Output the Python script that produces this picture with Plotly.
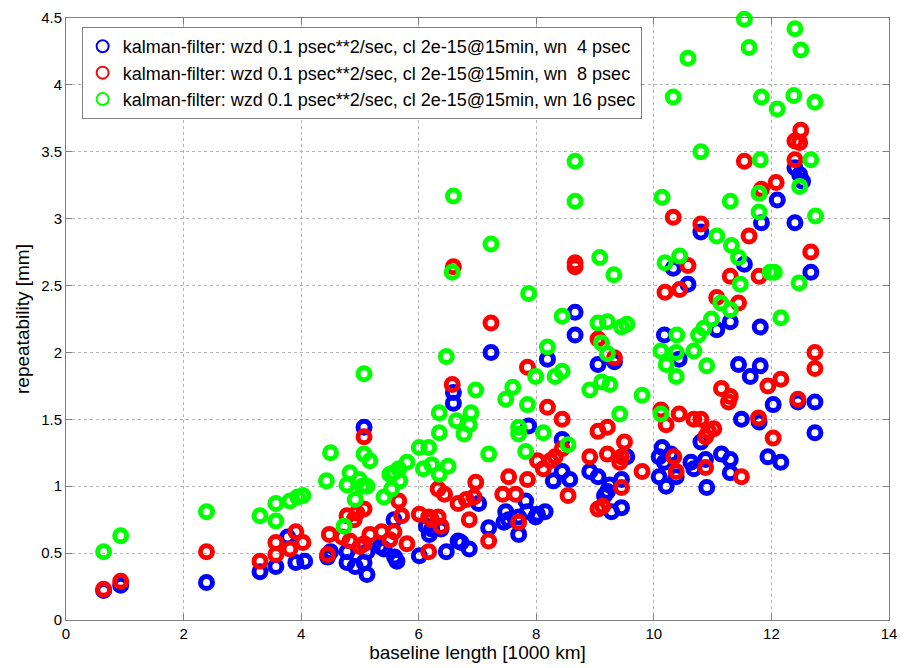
import plotly.graph_objects as go

# ---- data (baseline length [1000 km], repeatability [mm]) ----
blue_x = [0.64, 0.93, 2.39, 3.30, 3.57, 3.77, 3.91, 4.06, 4.45, 4.50, 4.78, 4.78, 4.92, 5.07, 5.07,
          5.12, 5.12, 5.34, 5.41, 5.58, 5.59, 5.63, 6.01, 6.13, 6.18, 6.22, 6.38, 6.47, 6.59, 6.59,
          6.67, 6.72, 6.86, 7.02, 7.19, 7.23, 7.45, 7.48, 7.53, 7.70, 7.70, 7.82, 7.85, 7.87, 7.99,
          8.02, 8.15, 8.19, 8.29, 8.44, 8.44, 8.57, 8.66, 8.66, 8.91, 9.05, 9.05, 9.16, 9.21, 9.25,
          9.28, 9.33, 9.45, 9.45, 9.54, 10.09, 10.09, 10.14, 10.18, 10.18, 10.21, 10.29, 10.33, 10.38,
          10.43, 10.58, 10.63, 10.68, 10.80, 10.80, 10.88, 10.90, 11.07, 11.15, 11.30, 11.30, 11.30,
          11.44, 11.49, 11.54, 11.64, 11.79, 11.81, 11.81, 11.83, 11.94, 12.03, 12.10, 12.16, 12.40,
          12.40, 12.45, 12.48, 12.53, 12.67, 12.74, 12.74]
blue_y = [0.22, 0.26, 0.28, 0.36, 0.40, 0.62, 0.43, 0.44, 0.47, 0.51, 0.43, 0.51, 0.40, 1.44, 0.43,
          0.51, 0.34, 0.55, 0.53, 0.75, 0.47, 0.44, 0.48, 0.70, 0.64, 0.68, 0.68, 0.51, 1.70, 1.62,
          0.59, 0.58, 0.53, 0.87, 0.69, 2.00, 0.73, 0.81, 0.75, 0.77, 0.64, 0.89, 0.81, 1.45, 0.77,
          0.79, 0.81, 1.95, 1.04, 1.35, 1.11, 1.05, 2.30, 2.13, 1.11, 1.91, 1.07, 0.93, 0.96, 1.01,
          0.81, 1.93, 0.84, 1.05, 1.22, 1.22, 1.07, 1.29, 2.13, 1.18, 1.00, 1.24, 2.63, 1.07,
          1.95, 2.51, 1.18, 1.13, 2.90, 1.33, 1.20, 0.99, 2.17, 1.24, 2.23, 1.20, 1.10,
          1.91, 1.50, 2.66, 1.82, 1.48, 2.19, 1.90, 2.97, 1.22, 1.61, 3.14, 1.18, 3.38,
          2.97, 1.63, 3.33, 3.28, 2.60, 1.63, 1.40]

red_x = [0.64, 0.93, 2.39, 3.30, 3.57, 3.57, 3.81, 3.91, 4.03, 4.45, 4.48, 4.70, 4.78, 4.83, 4.90,
         4.95, 5.00, 5.07, 5.07, 5.07, 5.17, 5.37, 5.51, 5.58, 5.66, 5.71, 5.80, 6.01, 6.17, 6.17,
         6.22, 6.33, 6.33, 6.38, 6.44, 6.57, 6.59, 6.67, 6.81, 6.86, 6.94, 6.97, 7.19, 7.23, 7.43,
         7.53, 7.65, 7.70, 7.85, 7.85, 8.02, 8.12, 8.19, 8.24, 8.32, 8.44, 8.44, 8.54, 8.66, 8.66,
         8.91, 9.05, 9.05, 9.05, 9.13, 9.21, 9.21, 9.33, 9.42, 9.45, 9.45, 9.50, 9.80, 10.12, 10.19,
         10.21, 10.33, 10.34, 10.38, 10.43, 10.44, 10.58, 10.68, 10.80, 10.80, 10.88, 10.88, 10.93,
         11.02, 11.07, 11.15, 11.27, 11.30, 11.30, 11.44, 11.49, 11.54, 11.62, 11.78, 11.79, 11.83,
         11.94, 12.03, 12.08, 12.16, 12.40, 12.40, 12.45, 12.48, 12.50, 12.67, 12.74, 12.74]
red_y = [0.23, 0.29, 0.51, 0.44, 0.58, 0.49, 0.53, 0.66, 0.58, 0.49, 0.64, 0.62, 0.78, 0.59, 0.75,
         0.80, 0.55, 1.37, 0.83, 0.57, 0.64, 0.66, 0.60, 0.66, 0.89, 0.78, 0.57, 0.79, 0.77, 0.51,
         0.75, 0.77, 0.98, 0.70, 0.94, 1.76, 2.64, 0.87, 0.90, 0.75, 0.92, 1.03, 0.59, 2.22, 0.94,
         1.07, 0.94, 0.73, 1.89, 1.05, 1.19, 1.13, 1.59, 1.19, 1.22, 1.50, 1.28, 0.93, 2.67, 2.64,
         1.22, 2.10, 1.41, 0.83, 0.85, 1.44, 1.24, 1.96, 1.18, 1.22, 0.99, 1.33, 1.11, 1.57, 2.45,
         1.46, 3.01, 1.22, 1.11, 1.54, 2.47, 2.65, 1.50, 2.96, 1.50, 1.37, 1.14, 1.41,
         1.43, 2.41, 1.73, 1.63, 2.57, 1.67, 2.37, 1.07, 3.43, 2.87, 1.51, 2.57, 3.22,
         1.75, 1.36, 3.27, 1.80, 3.58, 3.44, 1.65, 3.57, 3.66, 2.75, 2.00, 1.88]

green_x = [0.64, 0.93, 2.39, 3.30, 3.57, 3.57, 3.81, 3.94, 4.03, 4.43, 4.50, 4.73, 4.78, 4.83, 4.92,
           4.99, 5.04, 5.07, 5.07, 5.12, 5.17, 5.41, 5.51, 5.54, 5.58, 5.66, 5.68, 5.80, 6.01, 6.08,
           6.17, 6.22, 6.35, 6.35, 6.35, 6.47, 6.50, 6.57, 6.59, 6.64, 6.77, 6.86, 6.89, 6.97, 7.19,
           7.23, 7.48, 7.60, 7.70, 7.70, 7.82, 7.85, 7.87, 7.99, 8.12, 8.19, 8.32, 8.44, 8.44, 8.54,
           8.66, 8.66, 8.91, 9.05, 9.08, 9.11, 9.11, 9.21, 9.21, 9.25, 9.32, 9.42, 9.45, 9.54, 9.80,
           10.12, 10.12, 10.14, 10.19, 10.21, 10.33, 10.38, 10.38, 10.39, 10.44, 10.58, 10.68, 10.76,
           10.80, 10.85, 10.90, 10.98, 11.07, 11.14, 11.30, 11.30, 11.32, 11.44, 11.47, 11.54, 11.62,
           11.79, 11.79, 11.81, 11.83, 11.98, 12.05, 12.10, 12.16, 12.38, 12.40, 12.47, 12.48, 12.50,
           12.67, 12.74, 12.75]
green_y = [0.51, 0.63, 0.81, 0.78, 0.87, 0.74, 0.89, 0.92, 0.93, 1.04, 1.25, 0.70, 1.01, 1.10, 0.90,
           1.05, 1.00, 1.84, 1.24, 1.00, 1.19, 0.92, 1.09, 0.98, 1.10, 1.13, 1.04, 1.18, 1.29, 1.13,
           1.29, 1.16, 1.09, 1.40, 1.55, 1.97, 1.15, 2.60, 3.17, 1.49, 1.39, 1.46, 1.55, 1.72, 1.24,
           2.81, 1.65, 1.74, 1.44, 1.39, 1.26, 1.61, 2.44, 1.82, 1.40, 2.04, 1.82, 1.86, 2.27, 1.31,
           3.43, 3.13, 1.72, 2.22, 2.71, 2.07, 1.78, 1.99, 2.23, 1.76, 2.58, 1.54, 2.19, 2.21, 1.68,
           1.54, 2.01, 3.16, 2.67, 1.91, 3.91, 2.00, 1.82, 2.13, 2.72, 4.20, 2.01, 2.13,
           3.50, 2.18, 1.90, 2.25, 2.87, 2.37, 3.13, 2.32, 2.80, 2.71, 2.51, 4.49, 4.28,
           3.19, 3.05, 3.44, 3.91, 2.60, 2.60, 3.82, 2.26, 3.92, 4.42, 2.52, 3.24, 4.26,
           3.44, 3.87, 3.02]

series_names = [
    "kalman-filter: wzd 0.1 psec**2/sec, cl 2e-15@15min, wn  4 psec",
    "kalman-filter: wzd 0.1 psec**2/sec, cl 2e-15@15min, wn  8 psec",
    "kalman-filter: wzd 0.1 psec**2/sec, cl 2e-15@15min, wn 16 psec",
]
series_colors = ["#0000ff", "#ff0000", "#00ff00"]
x_ticks = [0, 2, 4, 6, 8, 10, 12, 14]
y_ticks = [0, 0.5, 1, 1.5, 2, 2.5, 3, 3.5, 4, 4.5]

FONT = "Liberation Sans, Arial, Helvetica, sans-serif"

fig = go.Figure()
for xs, ys, name, col in zip([blue_x, red_x, green_x], [blue_y, red_y, green_y],
                             series_names, series_colors):
    fig.add_trace(go.Scatter(
        x=xs, y=ys, mode="markers", name=name, cliponaxis=False,
        marker=dict(symbol="circle-open", size=12, color=col,
                    line=dict(width=5, color=col)),
    ))

axis_common = dict(
    showline=True, linecolor="#808080", linewidth=1, mirror="ticks",
    ticks="inside", ticklen=6, tickcolor="#808080",
    showgrid=True, gridcolor="#b4b4b4", griddash="dot", gridwidth=1,
    zeroline=False, tickfont=dict(family=FONT, size=15, color="#000000"),
)

fig.update_layout(
    width=906, height=668,
    margin=dict(l=66, r=9, t=18, b=47),
    paper_bgcolor="white", plot_bgcolor="white",
    font=dict(family=FONT, color="#000000"),
    xaxis=dict(range=[0, 14], tickvals=x_ticks,
               title=dict(text="baseline length [1000 km]", font=dict(family=FONT, size=19),
                          standoff=4),
               **axis_common),
    yaxis=dict(range=[0, 4.5], tickvals=y_ticks,
               title=dict(text="repeatability [mm]", font=dict(family=FONT, size=19),
                          standoff=6),
               **axis_common),
    legend=dict(x=0.019, y=0.985, xanchor="left", yanchor="top",
                bgcolor="white", bordercolor="#808080", borderwidth=1,
                font=dict(family=FONT, size=18, color="#000000"),
                tracegroupgap=0, itemsizing="constant"),
    showlegend=True,
)

fig.write_html("out.html", config={"displayModeBar": False},
               post_script="document.body.style.margin='0';document.body.style.padding='0';")
